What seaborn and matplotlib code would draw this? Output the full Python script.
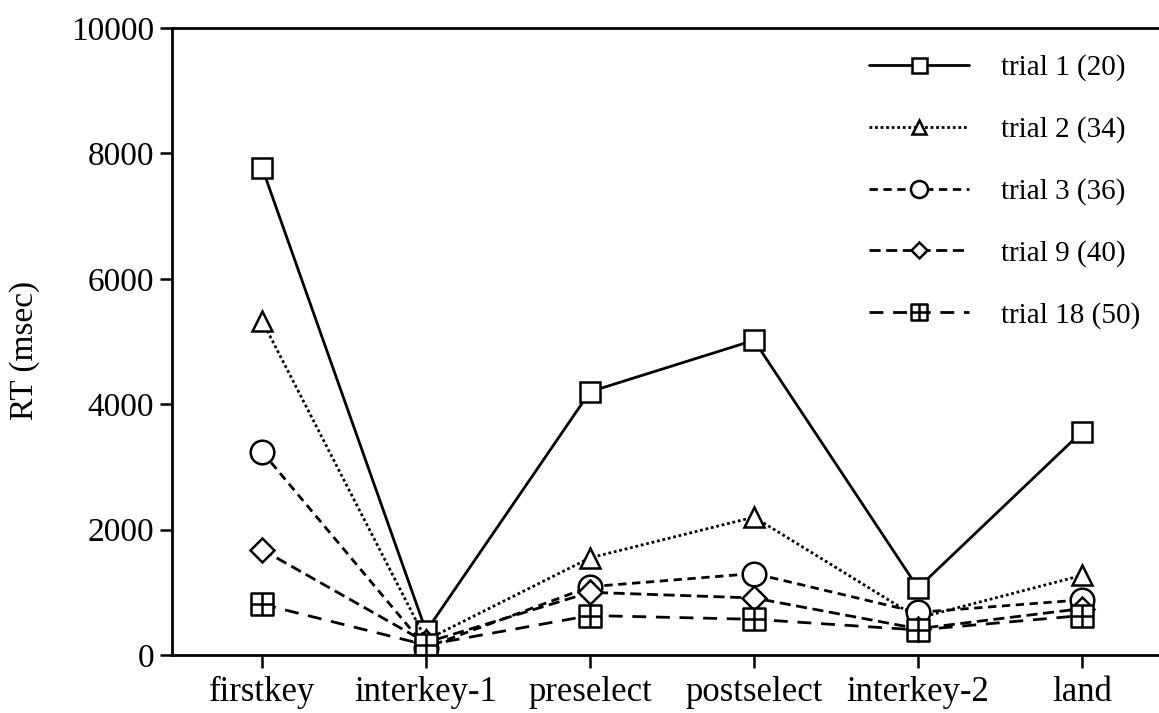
import numpy as np
import pandas as pd
import matplotlib
matplotlib.use("Agg")
import matplotlib.pyplot as plt
from matplotlib.path import Path
import seaborn as sns

categories = ["firstkey", "interkey-1", "preselect", "postselect", "interkey-2", "land"]
trial_names = ["trial 1 (20)", "trial 2 (34)", "trial 3 (36)", "trial 9 (40)", "trial 18 (50)"]
trial1 = [7770, 380, 4200, 5020, 1070, 3560]
trial2 = [5330, 240, 1550, 2200, 590, 1270]
trial3 = [3240, 120, 1090, 1300, 680, 880]
trial9 = [1680, 200, 1000, 910, 420, 740]
trial18 = [810, 160, 630, 570, 400, 630]
yticks = [0, 2000, 4000, 6000, 8000, 10000]

series = [trial1, trial2, trial3, trial9, trial18]

boxplus = Path(
    [(-1, -1), (1, -1), (1, 1), (-1, 1), (-1, -1), (0, -1), (0, 1), (-1, 0), (1, 0)],
    [Path.MOVETO, Path.LINETO, Path.LINETO, Path.LINETO, Path.CLOSEPOLY,
     Path.MOVETO, Path.LINETO, Path.MOVETO, Path.LINETO],
)

styles = [
    dict(marker="s", ls="-", ms=15),
    dict(marker="^", ls=(0, (1, 1)), ms=14),
    dict(marker="o", ls=(0, (3, 2)), ms=17),
    dict(marker="D", ls=(0, (4, 2)), ms=12),
    dict(marker=boxplus, ls=(0, (5, 3.5)), ms=16),
]

sns.set_theme(style="white")
plt.rcParams["font.family"] = ["Liberation Serif", "DejaVu Serif"]

fig = plt.figure(figsize=(11.59, 7.13), dpi=100)
ax = fig.add_axes([0.1484, 0.0813, 0.8516, 0.8794])

x = np.arange(len(categories))
for name, vals, st in zip(trial_names, series, styles):
    df = pd.DataFrame({"x": x, "y": vals})
    sns.lineplot(data=df, x="x", y="y", ax=ax, color="black", lw=2.0,
                 linestyle=st["ls"], marker=st["marker"], markersize=st["ms"],
                 markerfacecolor="white", markeredgecolor="black",
                 markeredgewidth=1.8, label=name)

ax.set_xlim(-0.55, 5.47)
ax.set_ylim(0, 10000)
ax.set_xticks(x)
ax.set_xticklabels(categories)
ax.set_yticks(yticks)
ax.set_yticklabels([str(t) for t in yticks])
ax.tick_params(axis="both", colors="black", direction="out",
               length=9, width=1.8, bottom=True, left=True, pad=4)
ax.tick_params(axis="x", labelsize=25, pad=6)
ax.tick_params(axis="y", labelsize=24)
ax.set_xlabel("")
ax.set_ylabel("RT (msec)", fontsize=24, color="black")
ax.yaxis.set_label_coords(-0.134, 0.485)
for side in ["left", "bottom", "top"]:
    ax.spines[side].set_visible(True)
    ax.spines[side].set_color("black")
    ax.spines[side].set_linewidth(2.0)
ax.spines["right"].set_visible(False)

leg = ax.legend(loc="upper right", bbox_to_anchor=(1.008, 1.0), frameon=False,
                fontsize=21, handlelength=3.45, labelspacing=1.2,
                handletextpad=1.1, markerscale=0.72)
for t in leg.get_texts():
    t.set_color("black")

fig.savefig("out.png", dpi=100, facecolor="white")
